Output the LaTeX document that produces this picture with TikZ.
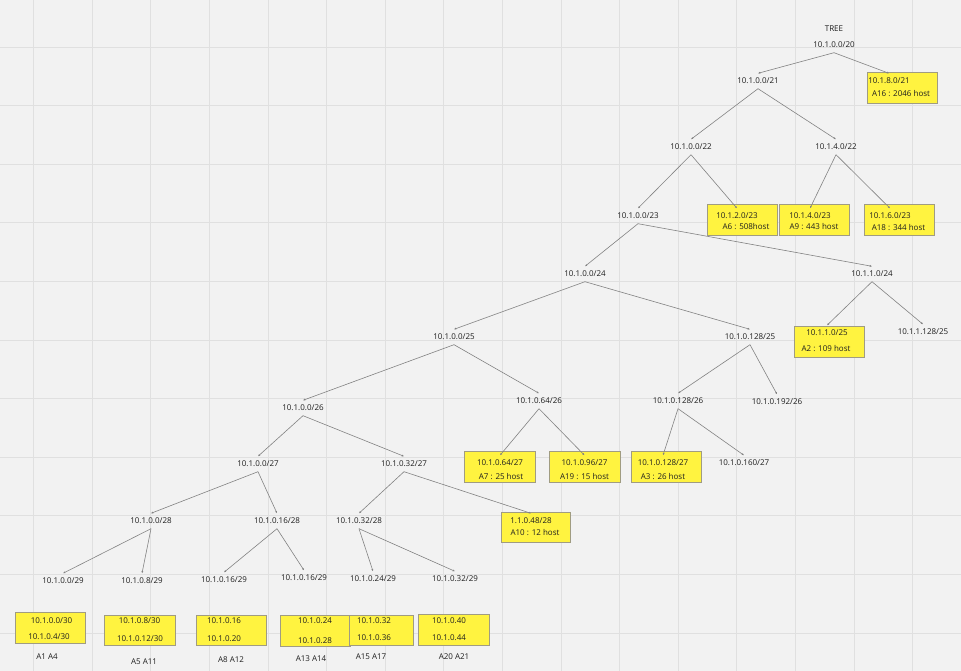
\documentclass[tikz,border=0pt]{standalone}
\usepackage{fontspec}
\setmainfont{Open Sans}
\usetikzlibrary{arrows.meta}
\definecolor{bgc}{RGB}{242,242,242}
\definecolor{gridc}{RGB}{224,224,224}
\definecolor{txtc}{RGB}{30,30,30}
\definecolor{edgec}{RGB}{130,130,130}
\definecolor{yel}{RGB}{255,243,64}
\definecolor{ybord}{RGB}{160,156,130}
\tikzset{
  lbl/.style={inner sep=0pt, minimum height=15pt, text=txtc, font=\fontsize{8}{9}\selectfont},
  ybox/.style={draw=ybord, fill=yel, line width=0.8pt, inner sep=0pt},
  edge/.style={draw=edgec, line width=0.6pt, -{Latex[length=2.2pt,width=2pt]}}
}
\begin{document}
\begin{tikzpicture}[x=1pt,y=-1pt]
\fill[bgc] (0,0) rectangle (961,671);
\useasboundingbox (0,0) rectangle (961,671);
\foreach \i in {0,...,15} \draw[gridc, line width=0.8pt] ({33.5+58.6*\i},0) -- ({33.5+58.6*\i},671);
\foreach \j in {0,...,10} \draw[gridc, line width=0.8pt] (0,{47+58.6*\j}) -- (961,{47+58.6*\j});

% yellow boxes
\node[ybox, minimum width=70pt, minimum height=31pt] (B1) at (902,87.5) {};
\node[ybox, minimum width=70pt, minimum height=31pt] (B2) at (742,219.5) {};
\node[ybox, minimum width=70pt, minimum height=31pt] (B3) at (814,219.5) {};
\node[ybox, minimum width=70pt, minimum height=31pt] (B4) at (899,219.5) {};
\node[ybox, minimum width=70pt, minimum height=31pt] (B5) at (829,341.5) {};
\node[ybox, minimum width=71pt, minimum height=31pt] (B6) at (499.5,466.5) {};
\node[ybox, minimum width=71pt, minimum height=31pt] (B7) at (584.5,466.5) {};
\node[ybox, minimum width=70pt, minimum height=31pt] (B8) at (666,466.5) {};
\node[ybox, minimum width=69pt, minimum height=30pt] (B9) at (535.5,527) {};
\node[ybox, minimum width=70pt, minimum height=31pt] (C1) at (50,627.5) {};
\node[ybox, minimum width=71pt, minimum height=30pt] (C2) at (139.5,630) {};
\node[ybox, minimum width=70pt, minimum height=30pt] (C3) at (231,630) {};
\node[ybox, minimum width=70pt, minimum height=31pt] (C4) at (315,630.5) {};
\node[ybox, minimum width=64pt, minimum height=30pt] (C5) at (381,630) {};
\node[ybox, minimum width=71pt, minimum height=31pt] (C6) at (453.5,629.5) {};

% box texts
\node[lbl] (b1a) at (889,81) {10.1.8.0/21};
\node[lbl] (b1b) at (901,94) {A16 : 2046 host};
\node[lbl] (b2a) at (737,216) {10.1.2.0/23};
\node[lbl] (b2b) at (746,227) {A6 : 508host};
\node[lbl] (b3a) at (810,216) {10.1.4.0/23};
\node[lbl] (b3b) at (814,227) {A9 : 443 host};
\node[lbl] (b4a) at (890,216) {10.1.6.0/23};
\node[lbl] (b4b) at (898.5,228) {A18 : 344 host};
\node[lbl] (b5a) at (827,333) {10.1.1.0/25};
\node[lbl] (b5b) at (826,349) {A2 : 109 host};
\node[lbl] (b6a) at (500,463) {10.1.0.64/27};
\node[lbl] (b6b) at (501,477) {A7 : 25 host};
\node[lbl] (b7a) at (584.5,463) {10.1.0.96/27};
\node[lbl] (b7b) at (584.5,477) {A19 : 15 host};
\node[lbl] (b8a) at (663,463) {10.1.0.128/27};
\node[lbl] (b8b) at (663,477) {A3 : 26 host};
\node[lbl] (b9a) at (531,521) {1.1.0.48/28};
\node[lbl] (b9b) at (535,533) {A10 : 12 host};
\node[lbl] (c1a) at (51.5,621) {10.1.0.0/30};
\node[lbl] (c1b) at (49,637) {10.1.0.4/30};
\node[lbl] (c2a) at (139.5,621) {10.1.0.8/30};
\node[lbl] (c2b) at (140,639) {10.1.0.12/30};
\node[lbl] (c3a) at (224,621) {10.1.0.16};
\node[lbl] (c3b) at (224,639) {10.1.0.20};
\node[lbl] (c4a) at (315,621) {10.1.0.24};
\node[lbl] (c4b) at (315,641) {10.1.0.28};
\node[lbl] (c5a) at (374,621) {10.1.0.32};
\node[lbl] (c5b) at (374,638) {10.1.0.36};
\node[lbl] (c6a) at (449,621) {10.1.0.40};
\node[lbl] (c6b) at (449,638) {10.1.0.44};
\node[lbl] (l1) at (47,657) {A1 A4};
\node[lbl] (l2) at (144,662) {A5 A11};
\node[lbl] (l3) at (231,660) {A8 A12};
\node[lbl] (l4) at (311,659) {A13 A14};
\node[lbl] (l5) at (371,657) {A15 A17};
\node[lbl] (l6) at (454,657) {A20 A21};

% tree labels
\node[lbl] (t0) at (834,29) {TREE};
\node[lbl] (n20) at (834,45) {10.1.0.0/20};
\node[lbl] (n21) at (758,81) {10.1.0.0/21};
\node[lbl] (n22a) at (691,147) {10.1.0.0/22};
\node[lbl] (n22b) at (836,147) {10.1.4.0/22};
\node[lbl] (n23) at (638,216) {10.1.0.0/23};
\node[lbl] (n24a) at (585,274) {10.1.0.0/24};
\node[lbl] (n24b) at (872,274) {10.1.1.0/24};
\node[lbl] (n25a) at (454,337) {10.1.0.0/25};
\node[lbl] (n25b) at (750,337) {10.1.0.128/25};
\node[lbl] (n25d) at (923,332) {10.1.1.128/25};
\node[lbl] (n26a) at (303,408) {10.1.0.0/26};
\node[lbl] (n26b) at (539,401) {10.1.0.64/26};
\node[lbl] (n26c) at (678,401) {10.1.0.128/26};
\node[lbl] (n26d) at (777,402) {10.1.0.192/26};
\node[lbl] (n27a) at (258,464) {10.1.0.0/27};
\node[lbl] (n27b) at (404,464) {10.1.0.32/27};
\node[lbl] (n27f) at (744,463) {10.1.0.160/27};
\node[lbl] (n28a) at (151,521) {10.1.0.0/28};
\node[lbl] (n28b) at (277,521) {10.1.0.16/28};
\node[lbl] (n28c) at (359,521) {10.1.0.32/28};
\node[lbl] (n29a) at (63,581) {10.1.0.0/29};
\node[lbl] (n29b) at (142,581) {10.1.0.8/29};
\node[lbl] (n29c) at (224,580) {10.1.0.16/29};
\node[lbl] (n29d) at (304,578) {10.1.0.16/29};
\node[lbl] (n29e) at (373,579) {10.1.0.24/29};
\node[lbl] (n29f) at (455,579) {10.1.0.32/29};

% edges
\draw[edge] (n20.south) -- (n21.north);
\draw[edge] (n20.south) -- (b1a.north);
\draw[edge] (n21.south) -- (n22a.north);
\draw[edge] (n21.south) -- (n22b.north);
\draw[edge] (n22a.south) -- (n23.north);
\draw[edge] (n22a.south) -- (b2a.north);
\draw[edge] (n22b.south) -- (b3a.north);
\draw[edge] (n22b.south) -- (b4a.north);
\draw[edge] (n23.south) -- (n24a.north);
\draw[edge] (n23.south) -- (n24b.north);
\draw[edge] (n24a.south) -- (n25a.north);
\draw[edge] (n24a.south) -- (n25b.north);
\draw[edge] (n24b.south) -- (b5a.north);
\draw[edge] (n24b.south) -- (n25d.north);
\draw[edge] (n25a.south) -- (n26a.north);
\draw[edge] (n25a.south) -- (n26b.north);
\draw[edge] (n25b.south) -- (n26c.north);
\draw[edge] (n25b.south) -- (n26d.north);
\draw[edge] (n26a.south) -- (n27a.north);
\draw[edge] (n26a.south) -- (n27b.north);
\draw[edge] (n26b.south) -- (b6a.north);
\draw[edge] (n26b.south) -- (b7a.north);
\draw[edge] (n26c.south) -- (b8a.north);
\draw[edge] (n26c.south) -- (n27f.north);
\draw[edge] (n27a.south) -- (n28a.north);
\draw[edge] (n27a.south) -- (n28b.north);
\draw[edge] (n27b.south) -- (n28c.north);
\draw[edge] (n27b.south) -- (b9a.north);
\draw[edge] (n28a.south) -- (n29a.north);
\draw[edge] (n28a.south) -- (n29b.north);
\draw[edge] (n28b.south) -- (n29c.north);
\draw[edge] (n28b.south) -- (n29d.north);
\draw[edge] (n28c.south) -- (n29e.north);
\draw[edge] (n28c.south) -- (n29f.north);
\end{tikzpicture}
\end{document}
